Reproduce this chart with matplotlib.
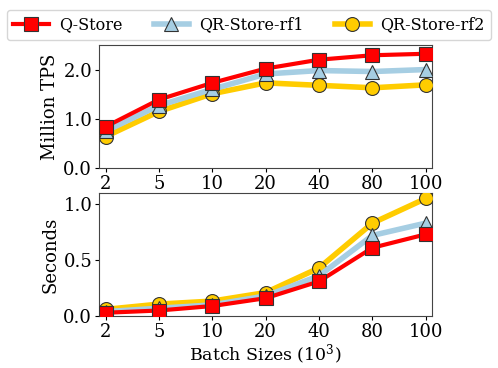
import numpy as np
import matplotlib.pyplot as plt

plt.rcParams['font.family'] = 'DejaVu Serif'
plt.rcParams['mathtext.fontset'] = 'dejavuserif'

batch_labels = ['2', '5', '10', '20', '40', '80', '100']
tps_qstore = [0.84, 1.39, 1.73, 2.02, 2.20, 2.29, 2.32]
tps_rf1 = [0.75, 1.27, 1.60, 1.91, 1.98, 1.96, 2.00]
tps_rf2 = [0.64, 1.15, 1.51, 1.73, 1.68, 1.63, 1.69]
sec_qstore = [0.03, 0.05, 0.09, 0.16, 0.31, 0.61, 0.73]
sec_rf1 = [0.04, 0.07, 0.10, 0.18, 0.36, 0.72, 0.83]
sec_rf2 = [0.06, 0.107, 0.134, 0.21, 0.43, 0.83, 1.05]

x = np.arange(len(batch_labels))
styles = [
    dict(label='Q-Store', color='#ff0000', marker='s', lw=3.0, ms=10, zorder=5),
    dict(label='QR-Store-rf1', color='#a6cee3', marker='^', lw=4.0, ms=10, zorder=4),
    dict(label='QR-Store-rf2', color='#ffcc00', marker='o', lw=4.0, ms=10, zorder=3),
]

fig, axs = plt.subplots(2, 1, figsize=(4.98, 3.68), dpi=100)
fig.subplots_adjust(left=0.199, right=0.868, top=0.878, bottom=0.141, hspace=0.2)

for ax, series, ylim, yticks, ylab in [
        (axs[0], [tps_qstore, tps_rf1, tps_rf2], (0, 2.5), [0.0, 1.0, 2.0], 'Million TPS'),
        (axs[1], [sec_qstore, sec_rf1, sec_rf2], (0, 1.1), [0.0, 0.5, 1.0], 'Seconds')]:
    for vals, st in zip(series, styles):
        ax.plot(x, vals, color=st['color'], marker=st['marker'], lw=st['lw'], ms=st['ms'],
                mec='#333333', mew=0.8, label=st['label'], zorder=st['zorder'])
    ax.set_xlim(-0.12, 6.12)
    ax.set_ylim(*ylim)
    ax.set_yticks(yticks)
    ax.set_yticklabels(['%.1f' % v for v in yticks])
    ax.set_xticks(x)
    ax.set_xticklabels(batch_labels)
    ax.tick_params(labelsize=13, length=3, pad=2)
    ax.set_ylabel(ylab, fontsize=13, labelpad=3)
    for s in ax.spines.values():
        s.set_color('#444444')

axs[1].set_xlabel('Batch Sizes ($10^3$)', fontsize=12.5, labelpad=1)

handles, labels = axs[0].get_legend_handles_labels()
fig.legend(handles, labels, loc='upper center', ncol=3, fontsize=11.5,
           bbox_to_anchor=(0.5, 0.99), handlelength=2.2, handletextpad=0.65,
           columnspacing=1.95, borderaxespad=0.4)

plt.savefig('out.png', dpi=100)
